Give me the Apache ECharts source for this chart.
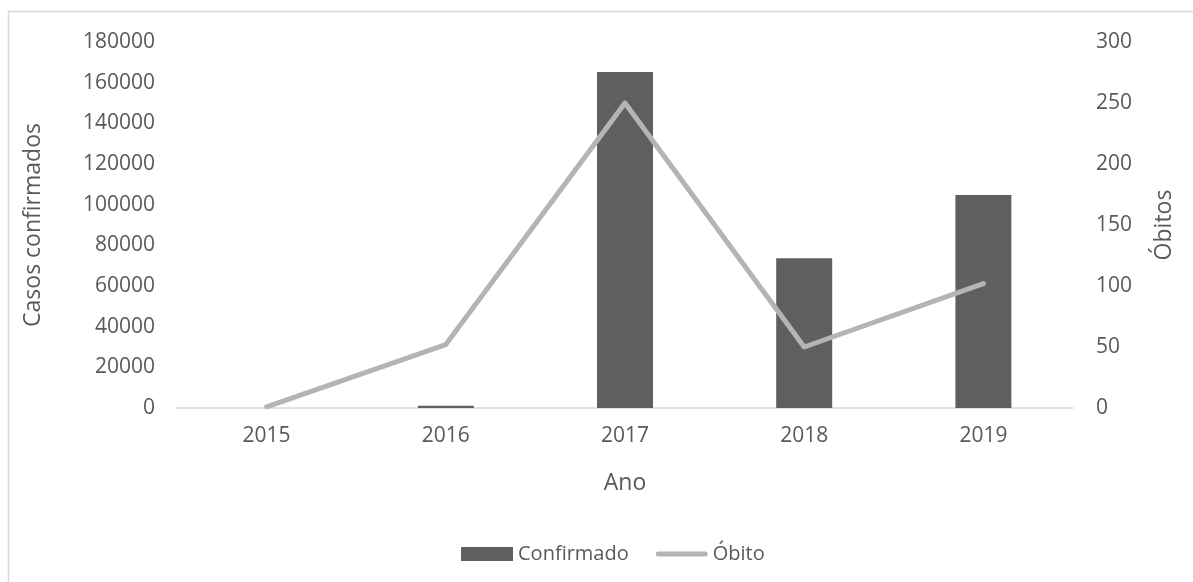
<!DOCTYPE html>
<html>
<head>
<meta charset="utf-8">
<script src="https://cdn.jsdelivr.net/npm/echarts@6/dist/echarts.min.js"></script>
<style>
  html, body { margin: 0; padding: 0; background: #fff; }
  #chart { width: 1193px; height: 582px; }
</style>
</head>
<body>
<div id="chart"></div>
<script>
// Annual figures
const years = ['2015', '2016', '2017', '2018', '2019'];
const confirmados = [0, 1100, 165300, 73700, 104700];
const obitos = [1, 52, 250, 50, 102];

const txt = '#595959';
const font = '"Open Sans", "Noto Sans", sans-serif';
const plain = v => String(v);

const chart = echarts.init(document.getElementById('chart'));
chart.setOption({
  backgroundColor: '#ffffff',
  textStyle: { fontFamily: font, color: txt },
  animation: false,
  graphic: [{
    type: 'rect',
    shape: { x: 8.5, y: 11.5, width: 1200, height: 620 },
    style: { fill: 'none', stroke: '#d9d9d9', lineWidth: 1.5 },
    silent: true
  }],
  grid: { left: 177, right: 120, top: 42, bottom: 174 },
  legend: {
    left: 456, top: 539,
    itemWidth: 52, itemHeight: 14, itemGap: 27,
    textStyle: { fontFamily: font, fontSize: 20, color: txt },
    data: [
      { name: 'Confirmado', icon: 'rect' },
      { name: 'Óbito', icon: 'path://M2.5,0 L49.5,0 A2.5,2.5 0 0 1 49.5,5 L2.5,5 A2.5,2.5 0 0 1 2.5,0 Z',
        itemStyle: { color: '#b4b4b4', borderWidth: 0 } }
    ]
  },
  xAxis: {
    type: 'category',
    data: years,
    name: 'Ano',
    nameLocation: 'middle',
    nameGap: 64,
    nameTextStyle: { fontFamily: font, fontSize: 23, color: txt },
    axisLine: { lineStyle: { color: '#d9d9d9', width: 1.5 } },
    axisTick: { show: false },
    axisLabel: { fontFamily: font, fontSize: 21, color: txt, margin: 18 }
  },
  yAxis: [{
    type: 'value',
    min: 0, max: 180000, interval: 20000,
    name: 'Casos confirmados',
    nameLocation: 'middle',
    nameGap: 132,
    nameTextStyle: { fontFamily: font, fontSize: 23, color: txt },
    axisLine: { show: false },
    axisTick: { show: false },
    splitLine: { show: false },
    axisLabel: { fontFamily: font, fontSize: 21, color: txt, margin: 22, formatter: plain }
  }, {
    type: 'value',
    min: 0, max: 300, interval: 50,
    name: 'Óbitos',
    nameLocation: 'middle',
    nameGap: 80,
    nameTextStyle: { fontFamily: font, fontSize: 23, color: txt },
    axisLine: { show: false },
    axisTick: { show: false },
    splitLine: { show: false },
    axisLabel: { fontFamily: font, fontSize: 21, color: txt, margin: 23, formatter: plain }
  }],
  series: [{
    name: 'Confirmado',
    type: 'bar',
    yAxisIndex: 0,
    data: confirmados,
    barWidth: 56,
    itemStyle: { color: '#5f5f5f' }
  }, {
    name: 'Óbito',
    type: 'line',
    yAxisIndex: 1,
    data: obitos,
    symbol: 'none',
    lineStyle: { color: '#b4b4b4', width: 5, cap: 'round', join: 'round' },
    itemStyle: { color: '#b4b4b4' }
  }]
});
</script>
</body>
</html>
